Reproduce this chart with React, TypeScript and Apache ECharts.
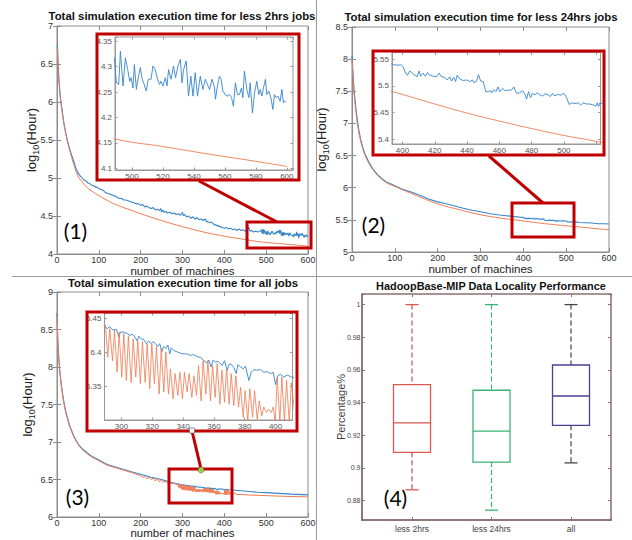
import React, { useEffect, useRef } from 'react';
import * as echarts from 'echarts';

// ---------------- data ----------------
const xName = 'number of machines';
const panelTitles = [
  'Total simulation execution time for less 2hrs jobs',
  'Total simulation execution time for less 24hrs jobs',
  'Total simulation execution time for all jobs',
  'HadoopBase-MIP Data Locality Performance',
];
const panelTags = ['(1)', '(2)', '(3)', '(4)'];

// Panel 1 (less 2hrs)
const blue1: number[][] = [
  [1, 6.75], [3, 6.47], [5, 6.27], [8, 6.07], [12, 5.9], [16, 5.74], [20, 5.62], [25, 5.49], [30, 5.39], [35, 5.3],
  [40, 5.22], [45, 5.13], [50, 5.07], [55, 5.03], [60, 5.0], [65, 4.97], [70, 4.96], [75, 4.93], [80, 4.92], [85, 4.9],
  [90, 4.89], [95, 4.88], [100, 4.86], [105, 4.85], [110, 4.84], [115, 4.81], [120, 4.8], [125, 4.79], [130, 4.78],
  [135, 4.77], [140, 4.76], [145, 4.74], [150, 4.73], [155, 4.73], [160, 4.71], [165, 4.71], [170, 4.7], [175, 4.69],
  [180, 4.68], [185, 4.67], [190, 4.66], [195, 4.66], [200, 4.64], [205, 4.65], [210, 4.62], [215, 4.63], [220, 4.61],
  [225, 4.6], [230, 4.61], [235, 4.58], [240, 4.59], [245, 4.57], [248, 4.6], [250, 4.55], [253, 4.58], [256, 4.55],
  [260, 4.56], [265, 4.54], [270, 4.55], [275, 4.53], [280, 4.54], [285, 4.52], [290, 4.53], [295, 4.51], [300, 4.55],
  [302, 4.5], [305, 4.52], [310, 4.49], [315, 4.5], [320, 4.47], [325, 4.49], [330, 4.46], [335, 4.48], [340, 4.45],
  [345, 4.46], [350, 4.44], [355, 4.46], [358, 4.42], [360, 4.43], [365, 4.41], [370, 4.42], [375, 4.39], [380, 4.38],
  [385, 4.37], [390, 4.36], [395, 4.35], [400, 4.34], [405, 4.35], [410, 4.33], [415, 4.34], [420, 4.32], [425, 4.33],
  [430, 4.31], [435, 4.33], [440, 4.31], [445, 4.32], [450, 4.3], [455, 4.31], [458, 4.36], [461, 4.3], [465, 4.31],
  [470, 4.29], [475, 4.3], [480, 4.29], [485, 4.3],
  [488.6, 4.317], [489.9, 4.268], [491.4, 4.265], [492.5, 4.33], [494.2, 4.262], [495.7, 4.317], [497.2, 4.294],
  [498.5, 4.271], [499.4, 4.278], [500.6, 4.258], [501.5, 4.304], [502.8, 4.255], [504.0, 4.278], [505.4, 4.298],
  [506.6, 4.275], [507.5, 4.268], [509.2, 4.252], [510.5, 4.275], [512.3, 4.275], [513.5, 4.301], [515.0, 4.294],
  [516.5, 4.275], [517.8, 4.265], [518.7, 4.271], [520.0, 4.262], [521.5, 4.278], [522.6, 4.262], [523.6, 4.294],
  [525.2, 4.275], [526.8, 4.301], [528.1, 4.278], [529.7, 4.301], [531.2, 4.314], [532.3, 4.268], [533.3, 4.294],
  [535.0, 4.311], [536.5, 4.242], [538.0, 4.281], [539.4, 4.242], [540.8, 4.288], [542.3, 4.242], [544.1, 4.281],
  [545.8, 4.255], [547.3, 4.275], [550.1, 4.255], [551.6, 4.275], [553.1, 4.262], [553.9, 4.236], [555.2, 4.262],
  [556.5, 4.281], [557.6, 4.275], [558.7, 4.252], [560.2, 4.245], [561.7, 4.242], [563.0, 4.245], [564.3, 4.239],
  [565.5, 4.222], [566.8, 4.268], [568.1, 4.245], [569.4, 4.245], [570.7, 4.258], [571.6, 4.239], [572.6, 4.291],
  [574.2, 4.255], [575.5, 4.239], [576.3, 4.268], [577.8, 4.209], [579.1, 4.248], [580.6, 4.271], [581.9, 4.245],
  [582.8, 4.255], [583.9, 4.242], [584.9, 4.258], [586.2, 4.275], [587.1, 4.245], [588.4, 4.252], [589.7, 4.239],
  [591.0, 4.216], [592.0, 4.245], [593.1, 4.239], [594.2, 4.242], [595.7, 4.232], [596.8, 4.255], [597.8, 4.229],
  [598.9, 4.232], [599.5, 4.23],
];
const orange1: number[][] = [
  [1, 6.7], [3, 6.44], [5, 6.25], [8, 6.05], [12, 5.88], [16, 5.73], [20, 5.61], [25, 5.48], [30, 5.37], [35, 5.27],
  [40, 5.18], [50, 5.03], [60, 4.95], [75, 4.86], [100, 4.77], [125, 4.69], [150, 4.63], [175, 4.58], [200, 4.53],
  [250, 4.44], [300, 4.36], [350, 4.29], [400, 4.235], [450, 4.19], [489, 4.158], [520, 4.143], [550, 4.128],
  [580, 4.114], [600, 4.104],
];

// Panel 2 (less 24hrs)
const blue2: number[][] = [
  [0, 8.05], [2, 7.82], [5, 7.5], [10, 7.18], [15, 6.93], [20, 6.76], [25, 6.63], [30, 6.53], [40, 6.39], [50, 6.28],
  [60, 6.2], [70, 6.14], [80, 6.09], [90, 6.06], [100, 6.03], [120, 5.97], [140, 5.93], [160, 5.88], [180, 5.82],
  [200, 5.78], [220, 5.75], [240, 5.715], [260, 5.68], [280, 5.65], [300, 5.625], [320, 5.6], [340, 5.58],
  [360, 5.565], [380, 5.55],
  [393.6, 5.541], [395.2, 5.539], [397.3, 5.539], [399.4, 5.539], [400.4, 5.536], [402.0, 5.523], [403.1, 5.52],
  [404.5, 5.528], [406.2, 5.523], [407.6, 5.52], [409.1, 5.517], [410.3, 5.528], [411.2, 5.518], [412.8, 5.524],
  [414.2, 5.518], [415.5, 5.525], [416.9, 5.52], [419.0, 5.518], [421.1, 5.517], [422.7, 5.524], [424.2, 5.517],
  [426.2, 5.516], [427.7, 5.511], [429.3, 5.517], [430.4, 5.509], [431.8, 5.516], [432.9, 5.508], [433.9, 5.52],
  [435.5, 5.513], [437.6, 5.51], [439.7, 5.511], [441.7, 5.508], [443.4, 5.511], [444.2, 5.506], [445.9, 5.509],
  [447.1, 5.521], [448.4, 5.509], [450.0, 5.508], [451.6, 5.489], [453.3, 5.489], [454.5, 5.491], [455.4, 5.487],
  [456.6, 5.493], [457.9, 5.489], [459.1, 5.498], [460.3, 5.489], [462.0, 5.495], [463.6, 5.491], [465.5, 5.492],
  [467.6, 5.492], [469.0, 5.498], [470.7, 5.486], [472.7, 5.487], [474.4, 5.491], [475.8, 5.485], [476.9, 5.475],
  [478.1, 5.489], [479.4, 5.478], [480.6, 5.486], [482.1, 5.483], [483.5, 5.487], [485.1, 5.483], [486.8, 5.481],
  [488.4, 5.485], [490.3, 5.483], [491.7, 5.48], [493.0, 5.486], [494.4, 5.481], [495.9, 5.484], [497.1, 5.483],
  [498.6, 5.483], [500.0, 5.486], [501.7, 5.478], [503.3, 5.465], [504.8, 5.468], [506.9, 5.467], [509.0, 5.468],
  [510.4, 5.464], [512.1, 5.468], [514.1, 5.466], [516.1, 5.466], [518.2, 5.464], [519.9, 5.462], [520.7, 5.468],
  [521.5, 5.461], [522.3, 5.468],
  [530, 5.46], [545, 5.455], [560, 5.45], [575, 5.44], [590, 5.44], [600, 5.435],
];
const orange2: number[][] = [
  [0, 8.0], [2, 7.76], [5, 7.45], [10, 7.13], [15, 6.89], [20, 6.73], [25, 6.61], [30, 6.51], [40, 6.37], [50, 6.27],
  [60, 6.19], [80, 6.08], [100, 6.02], [125, 5.95], [150, 5.88], [200, 5.75], [250, 5.66], [300, 5.58], [350, 5.525],
  [394, 5.489], [420, 5.466], [440, 5.449], [460, 5.434], [480, 5.42], [500, 5.407], [520, 5.396], [560, 5.37],
  [600, 5.345],
];

// Panel 3 (all jobs)
const blue3: number[][] = [
  [0, 8.72], [2, 8.35], [4, 8.15], [7, 7.93], [10, 7.78], [15, 7.58], [20, 7.43], [30, 7.22], [40, 7.08], [50, 6.98],
  [60, 6.91], [80, 6.82], [100, 6.76], [120, 6.7], [150, 6.65], [180, 6.6], [200, 6.57], [225, 6.53], [250, 6.5],
  [270, 6.465], [280, 6.45],
  [289.6, 6.438], [290.7, 6.435], [292.4, 6.438], [293.9, 6.434], [295.0, 6.433], [296.8, 6.434], [298.3, 6.423],
  [299.4, 6.43], [301.5, 6.43], [303.7, 6.428], [305.4, 6.425], [306.9, 6.427], [308.4, 6.424], [310.2, 6.417],
  [311.3, 6.424], [312.8, 6.42], [314.5, 6.419], [316.2, 6.413], [317.7, 6.417], [319.3, 6.413], [320.6, 6.416],
  [322.1, 6.413], [323.6, 6.409], [324.9, 6.413], [326.2, 6.401], [327.5, 6.409], [328.8, 6.406], [330.1, 6.411],
  [331.4, 6.398], [332.3, 6.407], [334.0, 6.403], [336.1, 6.401], [338.3, 6.399], [340.5, 6.398], [342.6, 6.398],
  [344.8, 6.396], [346.9, 6.397], [349.1, 6.394], [351.3, 6.393], [353.5, 6.388], [355.2, 6.385], [356.7, 6.389],
  [358.2, 6.379], [359.5, 6.389], [361.0, 6.386], [362.6, 6.387], [363.9, 6.385], [365.4, 6.381], [366.9, 6.388],
  [368.6, 6.374], [369.9, 6.383], [371.2, 6.383], [372.9, 6.378], [374.5, 6.369], [375.5, 6.382], [377.3, 6.379],
  [379.0, 6.376], [380.5, 6.38], [382.7, 6.359], [384.2, 6.371], [385.9, 6.375], [387.7, 6.374], [390.3, 6.375],
  [392.4, 6.371], [394.6, 6.372], [396.8, 6.369], [398.5, 6.371], [400.0, 6.353], [401.5, 6.366], [403.2, 6.368],
  [405.4, 6.364], [407.6, 6.367], [410.2, 6.364],
  [420, 6.36], [440, 6.35], [460, 6.34], [480, 6.33], [500, 6.325], [530, 6.315], [560, 6.305], [600, 6.295],
];
const orange3: number[][] = [
  [0, 8.7], [2, 8.32], [4, 8.12], [7, 7.91], [10, 7.76], [15, 7.56], [20, 7.41], [30, 7.21], [40, 7.07], [50, 6.97],
  [60, 6.9], [80, 6.81], [100, 6.75], [120, 6.69], [150, 6.64], [180, 6.59], [200, 6.55], [205, 6.53], [210, 6.545],
  [215, 6.51], [220, 6.53], [225, 6.5], [230, 6.52], [235, 6.48], [240, 6.51], [245, 6.47], [250, 6.495], [255, 6.46],
  [260, 6.48], [265, 6.45], [270, 6.47], [275, 6.44], [280, 6.46], [285, 6.43],
  [289.6, 6.44], [291.1, 6.393], [292.4, 6.435], [294.2, 6.388], [295.5, 6.433], [297.2, 6.371], [298.5, 6.43],
  [300.2, 6.364], [301.5, 6.428], [303.2, 6.359], [304.5, 6.424], [306.3, 6.356], [307.6, 6.42], [309.3, 6.364],
  [310.6, 6.417], [312.3, 6.354], [313.6, 6.416], [315.4, 6.356], [316.7, 6.413], [318.4, 6.347], [319.7, 6.413],
  [321.4, 6.354], [322.7, 6.409], [324.5, 6.339], [325.8, 6.406], [327.5, 6.342], [328.8, 6.401], [330.5, 6.339],
  [331.8, 6.376], [333.5, 6.332], [334.8, 6.369], [336.6, 6.337], [337.9, 6.371], [339.6, 6.332], [340.9, 6.371],
  [342.6, 6.342], [343.9, 6.369], [345.7, 6.334], [347.0, 6.366], [348.7, 6.337], [350.0, 6.381], [351.7, 6.329],
  [353.0, 6.388], [354.8, 6.339], [356.1, 6.388], [357.8, 6.329], [359.1, 6.381], [360.8, 6.334], [362.1, 6.384],
  [363.9, 6.324], [365.2, 6.374], [366.9, 6.327], [368.2, 6.376], [369.9, 6.324], [371.2, 6.369], [372.9, 6.322],
  [374.2, 6.366], [376.0, 6.32], [377.3, 6.349], [379.0, 6.305], [380.3, 6.344], [382.0, 6.3], [383.3, 6.347],
  [385.1, 6.305], [386.4, 6.344], [388.1, 6.302], [389.4, 6.329], [391.1, 6.307], [392.4, 6.32], [394.2, 6.312],
  [395.5, 6.317], [397.2, 6.312], [398.5, 6.32], [399.8, 6.298], [401.1, 6.364], [402.8, 6.298], [404.1, 6.364],
  [405.8, 6.298], [407.1, 6.359], [408.9, 6.298], [410.2, 6.356],
  [413, 6.3], [416, 6.33], [420, 6.3], [425, 6.32], [430, 6.3], [440, 6.3], [460, 6.293], [500, 6.285], [550, 6.275],
  [600, 6.268],
];

// Panel 4 (box plot): [position, min, Q1, median, Q3, max]
const boxCategories = ['less 2hrs', 'less 24hrs', 'all'];
const boxStats: number[][] = [
  [1, 0.8865, 0.9095, 0.9275, 0.951, 1.0],
  [2, 0.874, 0.9035, 0.9225, 0.9475, 1.0],
  [3, 0.903, 0.926, 0.944, 0.963, 1.0],
];

// ---------------- styles ----------------
const FONT = '"Liberation Sans", Arial, Helvetica, sans-serif';
const BLUE = '#3585cd';
const ORANGE = '#ef7a52';
const RED = '#c00000';
const FRAME = '#8c8c8c';
const BOX_FRAME = '#8a7070';
const BOX_COLORS = ['#d9574f', '#3db373', '#4a4291'];
const WHISKER_COLORS = ['#b8584f', '#3db373', '#444444'];

type PlotCfg = {
  left: number; top: number; width: number; height: number;
  x: number[]; y: number[];
  xDigits: number; yDigits: number;
  frame: string; frameWidth: number; bg?: string;
  labelSize: number; yLabelSize?: number; labelColor: string; tickLen: number;
  xMargin: number; yMargin: number;
  xName?: string; xNameGap?: number;
  yName?: string; yNameGap?: number; yNameRich?: any; yNameSize?: number;
  xFormatter?: (v: number) => string;
  xLabelMax?: number;
};

function buildOption() {
  const grids: any[] = [];
  const xAxes: any[] = [];
  const yAxes: any[] = [];

  const stepFmt = (step: number, digits: number, maxShown = Infinity) => (v: number) => {
    const r = v / step;
    return Math.abs(r - Math.round(r)) < 1e-6 && v <= maxShown ? String(+v.toFixed(digits)) : '';
  };

  function addPlot(c: PlotCfg) {
    const gi = grids.length;
    grids.push({
      left: c.left, top: c.top, width: c.width, height: c.height,
      show: true, borderColor: c.frame, borderWidth: c.frameWidth,
      backgroundColor: c.bg || 'transparent', containLabel: false, outerBoundsMode: 'none',
    });
    const tick = (inside: boolean) => ({ show: true, inside, length: c.tickLen, lineStyle: { color: c.frame, width: 1 } });
    const common = (range: number[]) => ({
      type: 'value', gridIndex: gi, min: range[0], max: range[1],
      minInterval: range[2], maxInterval: range[2], splitNumber: 6,
      splitLine: { show: false }, nameMoveOverlap: false,
    });
    const xi = xAxes.length;
    xAxes.push({
      ...common(c.x), position: 'bottom',
      axisLine: { show: true, onZero: false, lineStyle: { color: c.frame, width: c.frameWidth } },
      axisTick: tick(true),
      axisLabel: {
        fontSize: c.labelSize, color: c.labelColor, fontFamily: FONT, margin: c.xMargin,
        formatter: c.xFormatter || stepFmt(c.x[2], c.xDigits, c.xLabelMax),
      },
      name: c.xName || '', nameLocation: 'middle', nameGap: c.xNameGap || 0,
      nameTextStyle: { fontSize: 11.5, fontFamily: FONT, color: '#222' },
    });
    xAxes.push({
      ...common(c.x), position: 'top',
      axisLine: { show: false }, axisTick: tick(true), axisLabel: { show: false },
    });
    const yi = yAxes.length;
    yAxes.push({
      ...common(c.y), position: 'left',
      axisLine: { show: true, onZero: false, lineStyle: { color: c.frame, width: c.frameWidth } },
      axisTick: tick(true),
      axisLabel: {
        fontSize: c.yLabelSize || c.labelSize, color: c.labelColor, fontFamily: FONT, margin: c.yMargin,
        formatter: stepFmt(c.y[2], c.yDigits),
      },
      name: c.yName || '', nameLocation: 'middle', nameGap: c.yNameGap || 0, nameRotate: 90,
      nameTextStyle: c.yNameRich
        ? { rich: c.yNameRich }
        : { fontSize: c.yNameSize || 11, fontFamily: FONT, color: '#444' },
    });
    yAxes.push({
      ...common(c.y), position: 'right',
      axisLine: { show: false }, axisTick: tick(true), axisLabel: { show: false },
    });
    return { xi, yi };
  }

  const logRich = {
    a: { fontSize: 13, fontFamily: FONT, color: '#222', lineHeight: 15, verticalAlign: 'top', padding: [0, 0, 3, 0] },
    s: { fontSize: 9, fontFamily: FONT, color: '#222', lineHeight: 10, verticalAlign: 'bottom' },
  };
  const logName = '{a|log}{s|10}{a|(Hour)}';

  const mainBase = {
    frame: FRAME, frameWidth: 1, labelSize: 9, labelColor: '#333', tickLen: 4,
    xMargin: 1, yMargin: 4, xDigits: 0, yDigits: 1, xName, xNameGap: 11,
    yName: logName, yNameRich: logRich,
  };
  const insetBase = {
    frame: '#999999', frameWidth: 1, bg: '#ffffff', labelSize: 8, labelColor: '#555',
    tickLen: 2.5, xMargin: 2, yMargin: 3, xDigits: 0, yDigits: 2,
  };

  const p1 = addPlot({ ...mainBase, left: 57, top: 26, width: 251, height: 228, x: [0, 600, 100], y: [4, 7, 0.5], yNameGap: 17 });
  const i1 = addPlot({ ...insetBase, left: 115, top: 37, width: 178, height: 133, x: [489, 604, 20], y: [4.097, 4.358, 0.05] });
  const p2 = addPlot({ ...mainBase, left: 352, top: 27, width: 257, height: 225, x: [0, 600, 100], y: [5, 8.5, 0.5], yNameGap: 22 });
  const i2 = addPlot({ ...insetBase, left: 392, top: 52.5, width: 208.5, height: 91.5, x: [393.5, 522.7, 20], y: [5.391, 5.5625, 0.05], xLabelMax: 510 });
  const p3 = addPlot({ ...mainBase, left: 57, top: 292, width: 251, height: 225, x: [0, 600, 100], y: [6, 9, 0.5], yNameGap: 21, xNameGap: 10 });
  const i3 = addPlot({ ...insetBase, left: 104.5, top: 313, width: 188, height: 107, x: [289, 411, 20], y: [6.301, 6.458, 0.05] });
  const p4 = addPlot({
    frame: BOX_FRAME, frameWidth: 1.5, labelSize: 8.5, yLabelSize: 7, labelColor: '#444', tickLen: 3,
    xMargin: 4, yMargin: 1.5, xDigits: 0, yDigits: 2,
    left: 362, top: 294, width: 249, height: 226, x: [0.371, 3.503, 1], y: [0.868, 1.0065, 0.02],
    xFormatter: (v: number) => (Math.abs(v - Math.round(v)) < 1e-6 && v >= 1 && v <= 3 ? boxCategories[Math.round(v) - 1] : ''),
    yName: 'Percentage%', yNameGap: 16, yNameSize: 11,
  });

  const line = (ax: { xi: number; yi: number }, data: number[][], color: string, width: number, smooth = false) => ({
    type: 'line', xAxisIndex: ax.xi, yAxisIndex: ax.yi, data, symbol: 'none', smooth,
    lineStyle: { color, width }, itemStyle: { color }, clip: true, silent: true, z: 3,
  });

  const series: any[] = [
    line(p1, blue1, BLUE, 1.1), line(p1, orange1, ORANGE, 1, true),
    line(i1, blue1, BLUE, 0.9), line(i1, orange1, ORANGE, 0.9, true),
    line(p2, blue2, BLUE, 1.1), line(p2, orange2, ORANGE, 1, true),
    line(i2, blue2, BLUE, 0.9), line(i2, orange2, ORANGE, 0.9, true),
    line(p3, blue3, BLUE, 1.1), line(p3, orange3, ORANGE, 1),
    line(i3, blue3, BLUE, 0.9), line(i3, orange3, ORANGE, 0.8),
    {
      type: 'custom', xAxisIndex: p4.xi, yAxisIndex: p4.yi, data: boxStats,
      encode: { x: 0, y: [1, 2, 3, 4, 5] }, silent: true, z: 3,
      renderItem: (params: any, api: any) => {
        const i = params.dataIndex;
        const xv = api.value(0);
        const [pMin, pQ1, pMed, pQ3, pMax] = [1, 2, 3, 4, 5].map((k) => api.coord([xv, api.value(k)]));
        const cx = pMin[0];
        const bw = 37;
        const cw = 13;
        const c = BOX_COLORS[i];
        const wc = WHISKER_COLORS[i];
        const dash = { stroke: wc, lineWidth: 1.2, lineDash: [5, 3] };
        return {
          type: 'group',
          children: [
            { type: 'line', shape: { x1: cx, y1: pMax[1], x2: cx, y2: pQ3[1] }, style: dash },
            { type: 'line', shape: { x1: cx, y1: pQ1[1], x2: cx, y2: pMin[1] }, style: dash },
            { type: 'line', shape: { x1: cx - cw / 2, y1: pMax[1], x2: cx + cw / 2, y2: pMax[1] }, style: { stroke: i === 2 ? wc : c, lineWidth: 1.3 } },
            { type: 'line', shape: { x1: cx - cw / 2, y1: pMin[1], x2: cx + cw / 2, y2: pMin[1] }, style: { stroke: i === 2 ? wc : c, lineWidth: 1.3 } },
            { type: 'rect', shape: { x: cx - bw / 2, y: pQ3[1], width: bw, height: pQ1[1] - pQ3[1] }, style: { fill: 'rgba(0,0,0,0)', stroke: c, lineWidth: 1.3 } },
            { type: 'line', shape: { x1: cx - bw / 2, y1: pMed[1], x2: cx + bw / 2, y2: pMed[1] }, style: { stroke: c, lineWidth: 1.3 } },
          ],
        };
      },
    },
  ];

  const title = (text: string, x: number, y: number, size: number) => ({
    type: 'text', z: 50, style: { text, x, y, textAlign: 'center', textVerticalAlign: 'middle', font: `bold ${size}px ${FONT}`, fill: '#111' },
  });
  const tag = (text: string, x: number, y: number) => ({
    type: 'text', z: 50, style: { text, x, y, textAlign: 'center', textVerticalAlign: 'middle', font: `21px Lato, "Open Sans", sans-serif`, fill: '#000' },
  });
  const box = (x: number, y: number, w: number, h: number) => ({
    type: 'rect', z: 60, shape: { x, y, width: w, height: h }, style: { fill: 'none', stroke: RED, lineWidth: 3 },
  });
  const seg = (x1: number, y1: number, x2: number, y2: number, stroke: string, lineWidth: number) => ({
    type: 'line', z: 60, shape: { x1, y1, x2, y2 }, style: { stroke, lineWidth },
  });

  const graphic = [
    seg(12, 276.5, 632, 276.5, '#9a9a9a', 1),
    seg(316.5, 0, 316.5, 540, '#9a9a9a', 1),
    title(panelTitles[0], 182, 16, 11.4),
    title(panelTitles[1], 481, 17, 11.4),
    title(panelTitles[2], 183, 283, 11.4),
    title(panelTitles[3], 491, 286, 10.9),
    tag(panelTags[0], 75.5, 230),
    tag(panelTags[1], 373.5, 224),
    tag(panelTags[2], 77.5, 496),
    tag(panelTags[3], 395.5, 497),
    box(97, 34, 202, 146),
    box(247, 222, 64, 26),
    seg(199, 181, 277, 222, RED, 3),
    box(373, 51, 231, 104),
    box(512, 203, 62, 34),
    seg(489, 156, 543, 203, RED, 3),
    box(87, 312, 210, 119),
    box(169, 469, 63, 34),
    seg(192, 431, 201, 469, RED, 3),
    { type: 'rect', z: 70, shape: { x: 189.5, y: 428, width: 5, height: 5 }, style: { fill: '#fff', stroke: '#777', lineWidth: 0.8 } },
    { type: 'circle', z: 70, shape: { cx: 201, cy: 470, r: 3 }, style: { fill: '#9bd04a', stroke: '#557733', lineWidth: 0.6 } },
  ];

  return {
    animation: false,
    backgroundColor: '#ffffff',
    grid: grids,
    xAxis: xAxes,
    yAxis: yAxes,
    series,
    graphic,
  };
}

export default function App() {
  const ref = useRef<HTMLDivElement>(null);
  useEffect(() => {
    if (!ref.current) return;
    const chart = echarts.init(ref.current, null, { renderer: 'svg' });
    chart.setOption(buildOption() as any);
    return () => chart.dispose();
  }, []);
  return <div ref={ref} style={{ position: 'absolute', left: 0, top: 0, width: 632, height: 540, background: '#fff' }} />;
}
